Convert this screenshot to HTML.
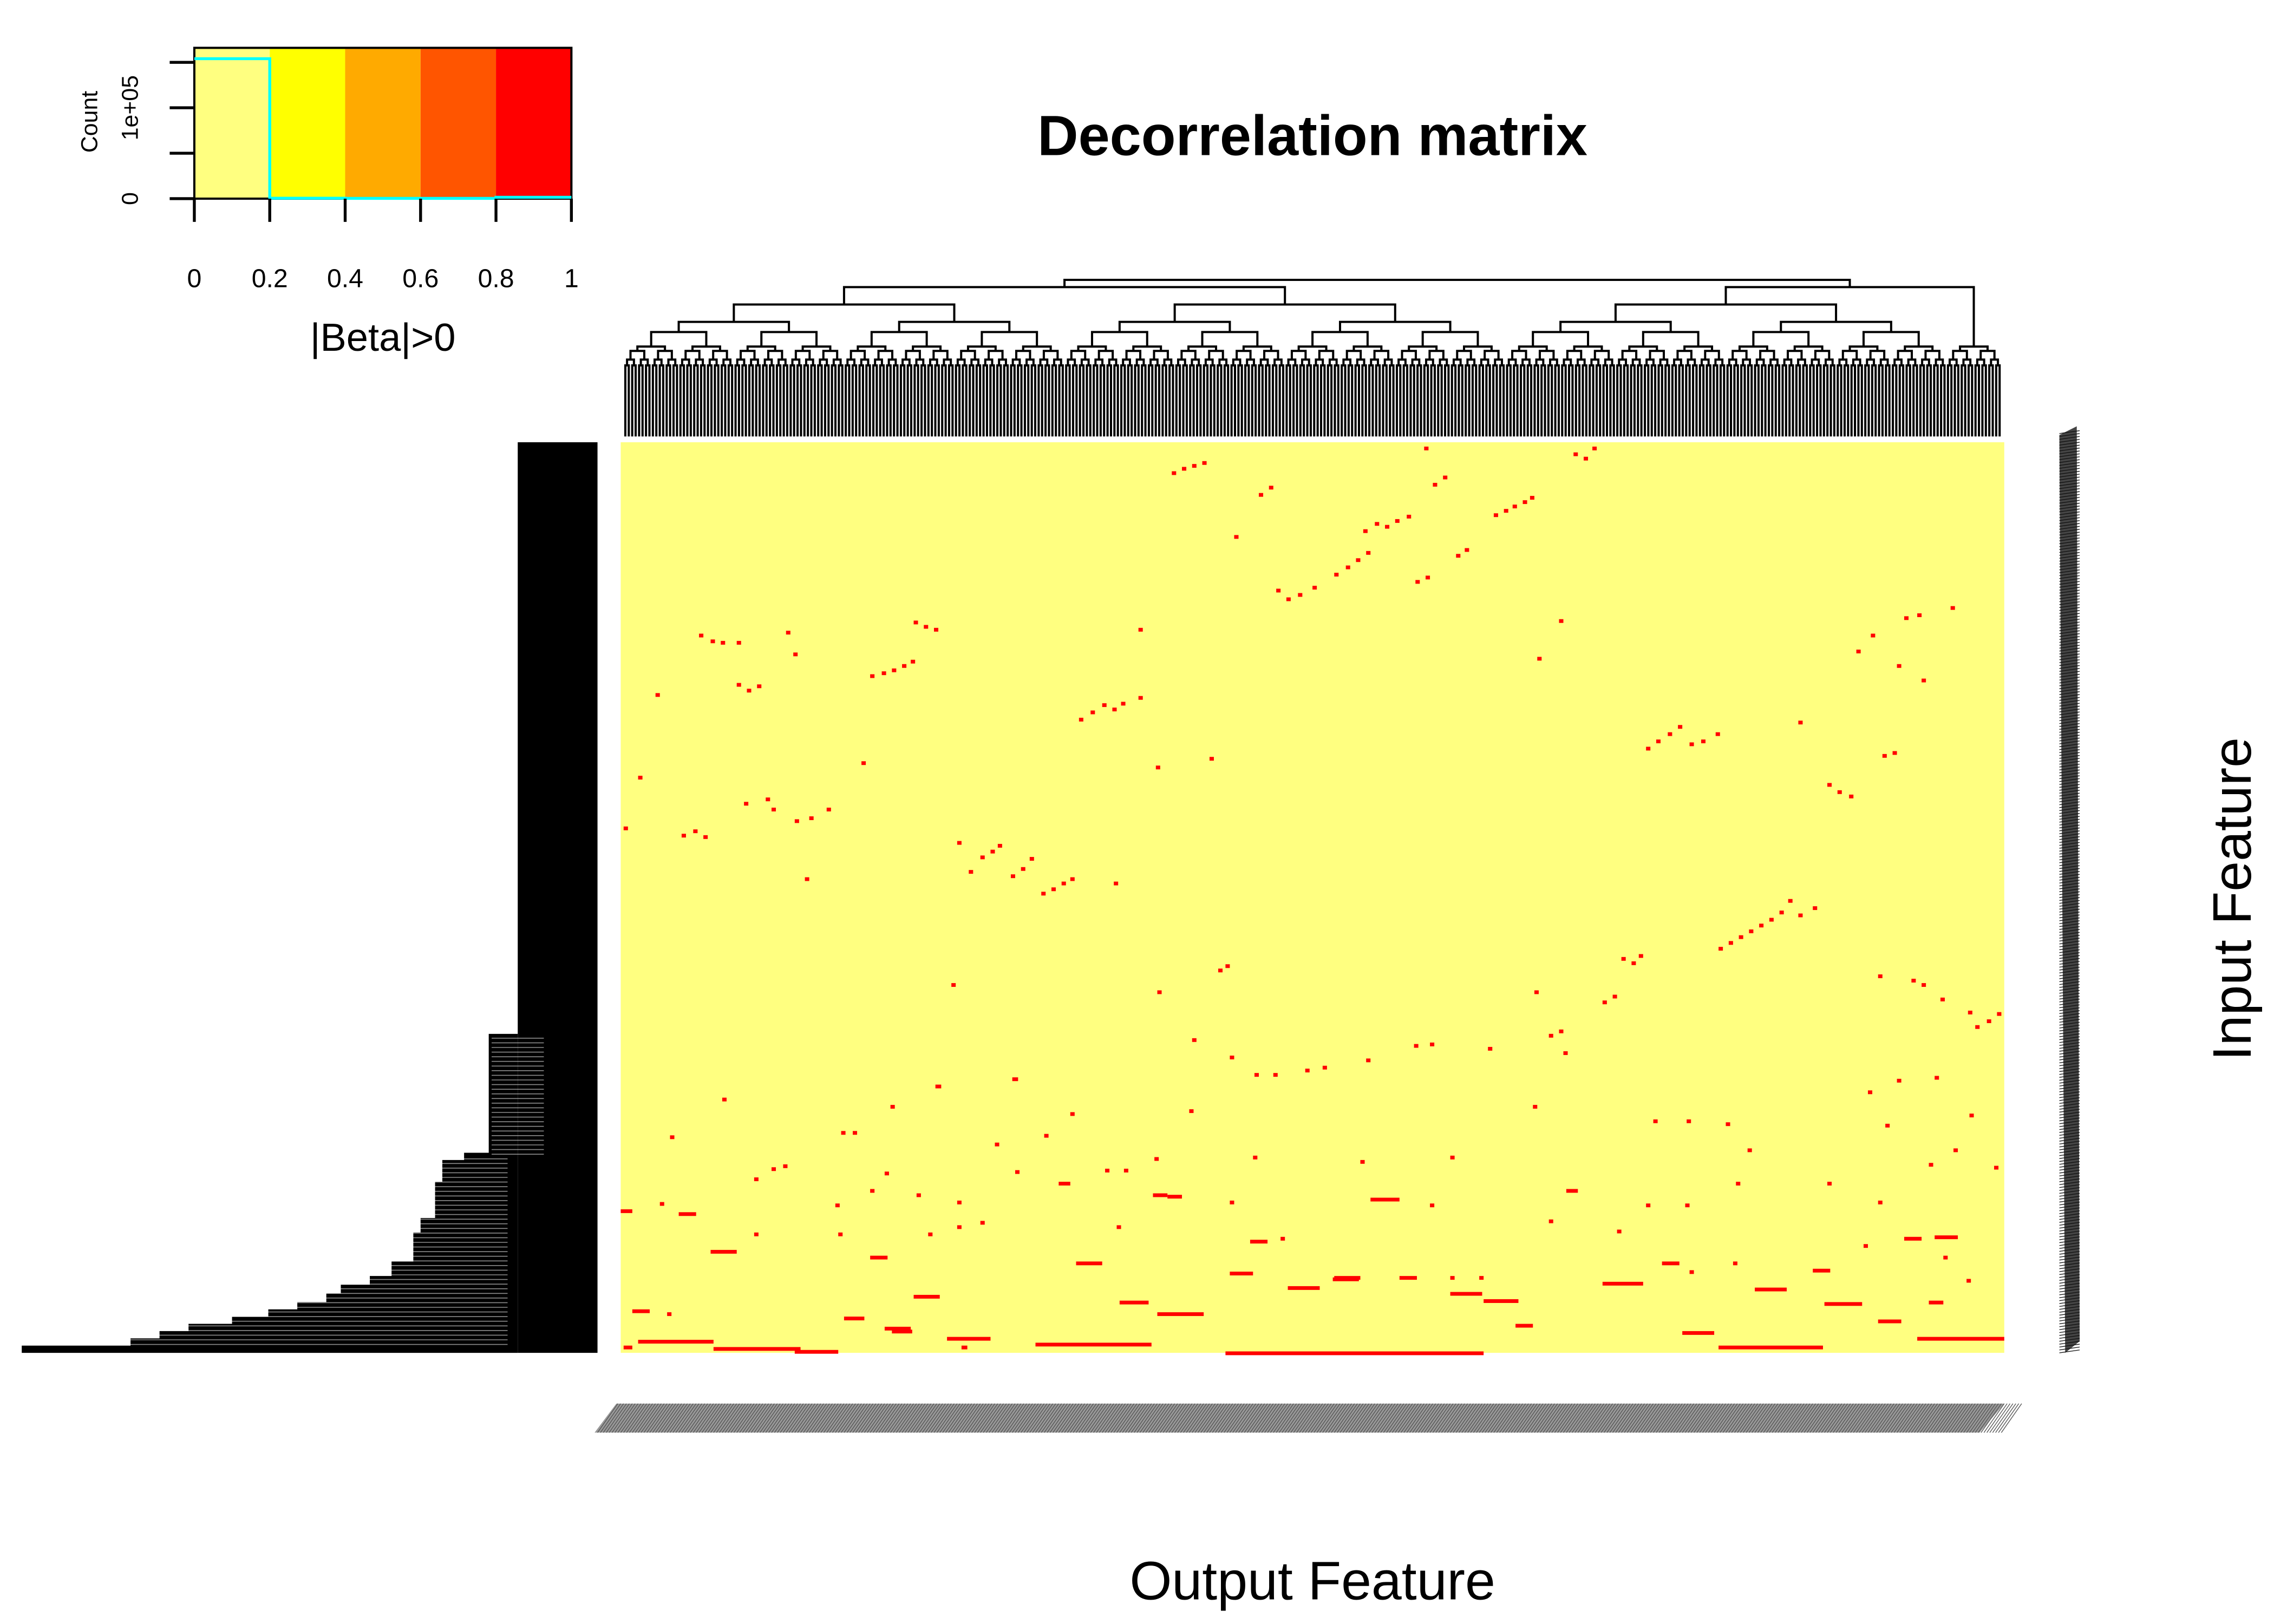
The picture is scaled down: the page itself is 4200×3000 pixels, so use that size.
<!DOCTYPE html>
<html><head><meta charset="utf-8"><style>
html,body{margin:0;padding:0;background:#fff;width:4200px;height:3000px;overflow:hidden}
svg{display:block}
text{font-family:"Liberation Sans",Arial,sans-serif}
</style></head><body>
<svg id="chart" xmlns="http://www.w3.org/2000/svg" width="4200" height="3000" viewBox="0 0 1568 1120" preserveAspectRatio="none">
<rect x="0" y="0" width="1568" height="1120" fill="#fff"/>
<text x="905" y="107" font-size="39" font-weight="bold" text-anchor="middle">Decorrelation matrix</text>
<text x="905" y="1103" font-size="37.5" text-anchor="middle">Output Feature</text>
<text transform="translate(1552,620) rotate(-90)" font-size="37.5" text-anchor="middle">Input Feature</text>
<g id="key"></g>
<g id="topdend"></g>
<g id="leftdend"></g>
<g id="heat"></g>
<g id="rlab"></g>
<g id="clab"></g>
</svg>
<script>
// heatmap grid: 954 columns x 628 rows
const gridCols = 954, gridRows = 628;
const redCols = [380,387,394,401,423,440,447,554,560,567,602,609,615,622,627,576,582,512,520,527,534,542,492,500,507,514,452,459,467,477,548,555,657,664,670,357,
54,62,69,80,114,119,202,209,216,172,180,187,194,200,24,80,87,94,316,324,332,339,345,357,632,647,852,862,885,894,917,880,897,
707,714,722,729,737,745,755,812,166,369,406,870,877,12,2,42,50,57,85,100,104,120,130,142,127,
232,240,248,255,260,269,276,282,290,297,304,310,340,832,839,847,
757,764,771,778,785,792,799,805,812,822,690,697,702,412,417,370,228,630,677,684,
867,890,897,910,929,934,942,949,394,420,437,450,472,484,514,547,558,598,640,647,650,
217,270,70,186,310,392,629,712,735,762,860,880,906,930,872,
34,152,160,258,292,347,368,436,510,572,777,919,
0,27,40,104,92,112,148,172,182,204,232,272,302,334,367,377,420,517,558,652,707,734,769,832,867,902,947,
62,92,150,172,212,232,248,314,342,420,434,455,492,537,572,592,640,687,718,737,767,822,857,885,906,928,912,
8,32,154,182,202,225,286,344,370,460,491,572,595,617,677,732,782,830,867,902,
2,12,64,120,187,235,417,757,894];
const redRows = [20,17,15,13,64,35,30,3,28,23,49,46,43,40,37,77,73,60,55,57,53,50,90,85,80,75,101,107,104,99,95,92,7,10,3,128,
132,136,137,137,130,145,123,126,128,160,158,156,153,150,173,166,170,167,190,185,180,183,179,175,148,122,143,132,120,118,113,153,163,
210,205,200,195,207,205,200,192,220,223,217,215,213,230,265,270,267,271,248,245,252,260,258,252,300,
275,295,285,281,277,298,293,286,310,307,303,300,303,235,240,243,
348,344,340,336,332,328,323,315,325,320,355,358,353,363,360,378,373,378,385,381,
367,370,373,383,392,402,398,393,411,423,435,435,432,430,425,415,414,417,408,405,420,
443,438,452,457,462,460,457,467,467,469,447,439,437,463,470,
478,475,475,483,477,501,493,492,495,492,487,487,
529,524,531,500,507,498,525,515,503,518,523,502,510,501,518,519,523,521,525,515,525,525,510,510,523,497,499,
557,545,545,561,545,540,537,565,540,572,550,548,575,575,575,575,536,543,565,571,565,570,553,548,547,577,561,
598,600,603,610,588,617,621,592,600,582,576,586,591,608,579,613,583,593,605,592,
623,619,624,626,612,623,627,623,617];
const redLens = [3,3,3,3,3,3,3,3,3,3,3,3,3,3,3,3,3,3,3,3,3,3,3,3,3,3,3,3,3,3,3,3,3,3,3,3,
3,3,3,3,3,3,3,3,3,3,3,3,3,3,3,3,3,3,3,3,3,3,3,3,3,3,3,3,3,3,3,3,3,
3,3,3,3,3,3,3,3,3,3,3,3,3,3,3,3,3,3,3,3,3,3,3,3,3,
3,3,3,3,3,3,3,3,3,3,3,3,3,3,3,3,
3,3,3,3,3,3,3,3,3,3,3,3,3,3,3,3,3,3,3,3,
3,3,3,3,3,3,3,3,3,3,3,3,3,3,3,3,3,3,3,3,3,
4,4,3,3,3,3,3,3,3,3,3,3,3,3,3,
3,3,3,3,3,3,3,3,3,3,3,3,
8,3,12,3,3,3,3,3,3,3,3,3,8,3,10,10,3,20,3,8,3,3,3,3,3,3,3,
18,3,3,12,3,3,3,18,3,16,12,3,18,12,3,3,3,3,12,3,3,12,3,12,16,3,3,
12,3,14,18,18,30,80,20,32,22,18,22,24,12,28,22,22,26,16,10,
6,52,60,30,14,4,178,72,60];
const keyBreaks = [0,0.2,0.4,0.6,0.8,1];
const keyColors = ["#FFFF80","#FFFF00","#FFAA00","#FF5500","#FF0000"];
const histCounts = [154000,500,300,300,1500];
const countTicks = [0,50000,100000,150000];

const NS="http://www.w3.org/2000/svg";
function mk(tag,attrs,parent){const e=document.createElementNS(NS,tag);for(const k in attrs)e.setAttribute(k,attrs[k]);parent.appendChild(e);return e;}

// heatmap
const HX=428,HY=305,HW=954,HH=628;
const xS=c=>HX+c*HW/gridCols, yS=r=>HY+r*HH/gridRows;
const heat=document.getElementById('heat');
const bg=mk('rect',{x:HX,y:HY,width:HW,height:HH,fill:'#FFFF80'},heat);


for(let i=0;i<redCols.length;i++){
  const r=mk('rect',{x:xS(redCols[i]),y:yS(redRows[i]),width:redLens[i]*HW/gridCols,height:2.6*HH/gridRows,fill:'#FF0000'},heat);
  
  
}

// color key
const key=document.getElementById('key');
const KX=134,KW=260,KY=33,KB=137;
const kx=v=>KX+v*KW, ky=c=>KB-c*(KB-43)/150000;
for(let i=0;i<keyColors.length;i++){
  const r=mk('rect',{x:kx(keyBreaks[i]),y:KY,width:kx(keyBreaks[i+1])-kx(keyBreaks[i]),height:KB-KY,fill:keyColors[i]},key);
  
  
}
mk('rect',{x:KX,y:KY,width:KW,height:KB-KY,fill:'none',stroke:'#000','stroke-width':1.5},key);
let d='M'+KX+' '+ky(histCounts[0]);
for(let i=0;i<histCounts.length;i++){d+=' L'+kx(keyBreaks[i])+' '+ky(histCounts[i])+' L'+kx(keyBreaks[i+1])+' '+ky(histCounts[i]);}
const hl=mk('path',{d:d,fill:'none',stroke:'#00FFFF','stroke-width':2},key);


countTicks.forEach(c=>{mk('line',{x1:117,y1:ky(c),x2:134,y2:ky(c),stroke:'#000','stroke-width':2},key);});
const t0=mk('text',{transform:`translate(95,${ky(0)}) rotate(-90)`,'font-size':16,'text-anchor':'middle'},key);t0.textContent='0';
const t1=mk('text',{transform:`translate(95,${ky(100000)}) rotate(-90)`,'font-size':16,'text-anchor':'middle'},key);t1.textContent='1e+05';
const tc=mk('text',{transform:`translate(67,84) rotate(-90)`,'font-size':16,'text-anchor':'middle'},key);tc.textContent='Count';
keyBreaks.forEach(v=>{
  mk('line',{x1:kx(v),y1:KB,x2:kx(v),y2:KB+16,stroke:'#000','stroke-width':2},key);
  const t=mk('text',{x:kx(v),y:198,'font-size':18,'text-anchor':'middle'},key);t.textContent=String(v);
  
  
});
const kt=mk('text',{x:264,y:242,'font-size':27,'text-anchor':'middle'},key);kt.textContent='|Beta|>0';



// top dendrogram (structural drawing)
const td=document.getElementById('topdend');
const nLeaf=400;
let nodes=[];
for(let i=0;i<nLeaf;i++){nodes.push({x:HX+2+(i+0.5)*(HW-4)/nLeaf,y:301});}
let lvl=0;const lvlH=[252,250,246,240,232,222,212,202,194,188];
let p='';
while(nodes.length>1){
  const nx=[];const h=lvlH[Math.min(lvl,lvlH.length-1)]-((lvl*7)%5);
  for(let i=0;i<nodes.length;i+=2){
    if(i+1>=nodes.length){nx.push(nodes[i]);continue;}
    const a=nodes[i],b=nodes[i+1];
    const hh=Math.min(h,a.y-2,b.y-2);
    p+=`M${a.x} ${a.y}V${hh}H${b.x}V${b.y}`;
    nx.push({x:(a.x+b.x)/2,y:hh});
  }
  nodes=nx;lvl++;
}
mk('path',{d:p,fill:'none',stroke:'#000','stroke-width':1.5},td);

// left dendrogram
const ld=document.getElementById('leftdend');
mk('rect',{x:357,y:305,width:55,height:628,fill:'#000'},ld);
const stair=[[15,933],[15,928],[90,928],[90,923],[110,923],[110,918],[130,918],[130,913],[160,913],[160,908],[185,908],[185,903],[205,903],[205,898],[225,898],[225,892],[235,892],[235,886],[255,886],[255,880],[270,880],[270,870],[285,870],[285,850],[290,850],[290,840],[300,840],[300,815],[305,815],[305,800],[320,800],[320,795],[337,795],[337,713],[357,713],[357,933]];
mk('path',{d:'M'+stair.map(q=>q.join(' ')).join(' L')+'Z',fill:'#000'},ld);
for(let y=716;y<930;y+=3.2){mk('line',{x1:y<797?339:18,y1:y,x2:y<797?375:350,y2:y,stroke:'#fff','stroke-width':0.6,opacity:0.55},ld);}

// row labels (right)
const rl=document.getElementById('rlab');
mk('path',{d:'M1420 300 L1432 294 L1434 925 L1424 933 Z',fill:'#444'},rl);
for(let y=297;y<933;y+=2){mk('line',{x1:1420,y1:y+2,x2:1434,y2:y,stroke:'#111','stroke-width':0.5},rl);}
// column labels (bottom)
const cl=document.getElementById('clab');
mk('path',{d:'M425 968 L1382 968 L1365 988 L410 988 Z',fill:'#999'},cl);
for(let x=412;x<1382;x+=2){mk('line',{x1:x+14,y1:968,x2:x,y2:988,stroke:'#555','stroke-width':0.5},cl);}
</script>
</body></html>
